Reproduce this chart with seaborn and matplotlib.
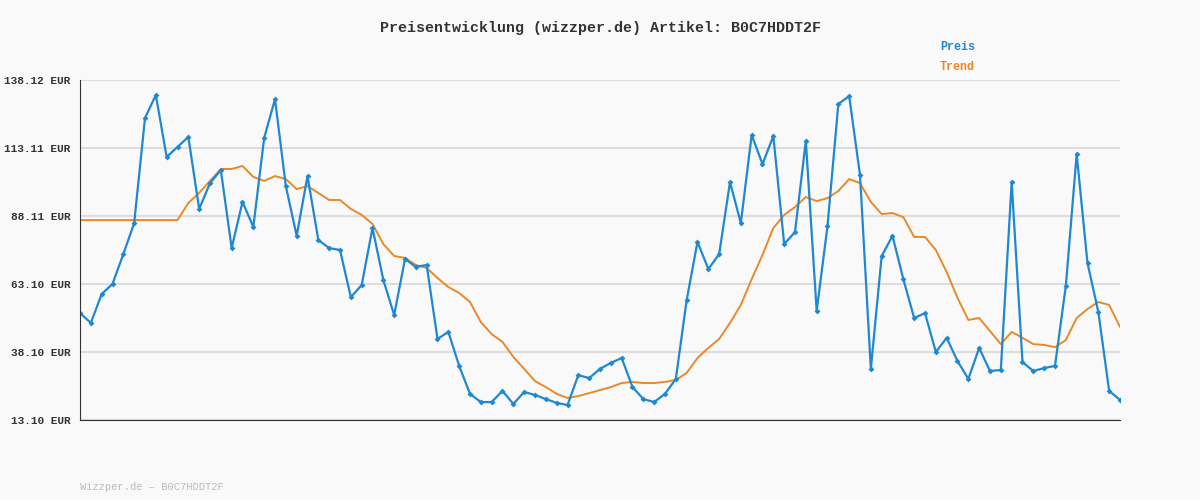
import matplotlib
matplotlib.use("Agg")
import matplotlib.pyplot as plt
import seaborn as sns
import pandas as pd

preis = [52.4,48.8,59.4,63.1,74.1,85.5,124.1,132.6,109.8,113.5,117.2,90.7,100.2,105.0,76.3,93.3,84.1,116.8,131.1,99.1,
80.8,102.8,79.3,76.3,75.6,58.3,62.7,83.7,64.6,51.7,72.3,69.4,70.1,42.9,45.5,33.0,22.7,19.7,19.7,23.8,
19.0,23.4,22.3,20.8,19.4,18.6,29.6,28.5,31.9,34.1,35.9,25.2,20.8,19.7,22.7,28.2,57.2,78.6,68.6,74.1,
100.6,85.5,117.9,107.2,117.5,77.8,82.2,115.7,53.2,84.4,129.3,132.2,103.2,31.9,73.4,80.8,64.9,50.6,52.4,38.1,
43.3,34.8,28.2,39.6,31.1,31.5,100.6,34.4,31.1,32.2,33.0,62.4,110.9,70.8,52.8,23.8,20.5]
trend = [86.6]*10 + [92.9,96.6,101.0,105.4,105.4,106.5,102.5,101.0,102.8,101.7,98.0,99.1,96.6,94.0,94.0,90.7,88.5,85.2,77.8,73.4,
72.7,70.1,69.0,65.3,62.0,59.8,56.5,49.1,44.7,41.8,36.3,31.9,27.4,25.2,22.7,21.2,21.9,23.0,24.1,25.2,
26.7,27.1,26.7,26.7,27.1,27.8,30.4,35.9,39.6,42.9,48.8,55.4,64.9,73.8,83.7,88.5,91.4,95.1,93.6,94.7,
97.3,101.7,100.2,93.3,88.8,89.2,87.7,80.4,80.4,75.6,67.5,58.0,49.9,50.6,45.8,41.0,45.5,43.3,41.0,40.7,
39.9,42.5,50.6,53.9,56.5,55.4,47.3]
n = min(len(preis), len(trend))
preis, trend = preis[:n], trend[:n]
yticks = [13.10, 38.10, 63.10, 88.11, 113.11, 138.12]
df = pd.DataFrame({"i": range(n), "Preis": preis, "Trend": trend})

sns.set_style("white")
plt.rcParams['font.family'] = ['Liberation Mono', 'DejaVu Sans Mono']
blue, orange = "#1f88d0", "#e8892a"
fig = plt.figure(figsize=(12, 5), dpi=100, facecolor="#f9f9f9")
ax = fig.add_axes([80/1200, 80/500, 1040/1200, 340/500])
ax.set_facecolor("#f9f9f9")
sns.lineplot(data=df, x="i", y="Trend", ax=ax, color=orange, lw=1.4)
sns.lineplot(data=df, x="i", y="Preis", ax=ax, color=blue, lw=1.6, marker="D", markersize=3, markeredgewidth=0)
ax.set_xlim(0, n-1)
ax.set_ylim(13.10, 138.12)
ax.set_yticks(yticks)
ax.set_yticklabels([f"{v:.2f} EUR" for v in yticks], fontsize=8, fontweight="bold", color="#333333")
ax.set_xticks([])
ax.set_xlabel(""); ax.set_ylabel("")
ax.grid(axis="y", color="#dddddd", lw=1.5)
ax.set_axisbelow(True)
for s in ["top", "right"]:
    ax.spines[s].set_visible(False)
ax.spines["left"].set_color("#333333")
ax.spines["bottom"].set_color("#333333")
ax.tick_params(axis="y", length=5, color="#333333", pad=2)
fig.text(0.5, 0.944, "Preisentwicklung (wizzper.de) Artikel: B0C7HDDT2F", ha="center", va="center", fontsize=10.8, fontweight="bold", color="#333333")
fig.text(940/1200, 0.906, "Preis", color=blue, fontsize=8.5, fontweight="bold", va="center")
fig.text(940/1200, 0.866, "Trend", color=orange, fontsize=8.5, fontweight="bold", va="center")
fig.text(80/1200, 0.026, "Wizzper.de – B0C7HDDT2F", color="#bbbbbb", fontsize=7.5, va="center")
fig.savefig("out.png", facecolor=fig.get_facecolor())
